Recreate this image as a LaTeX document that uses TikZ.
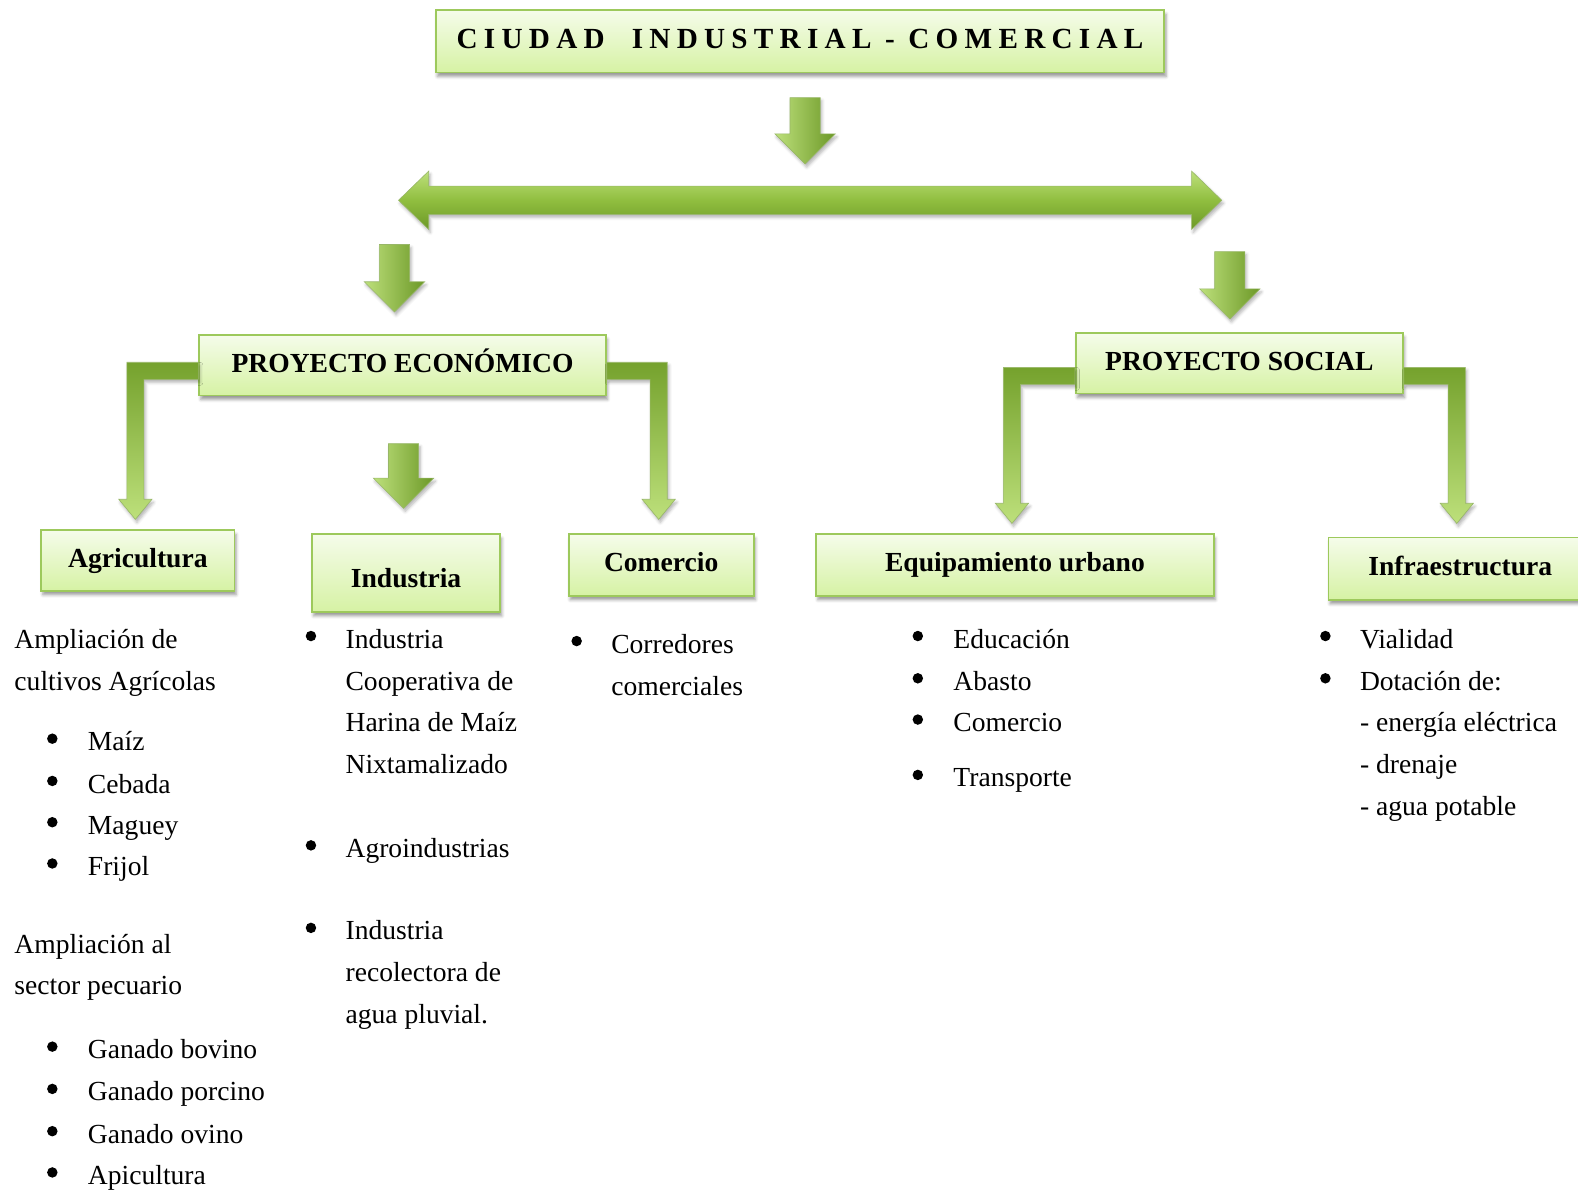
\documentclass[tikz,border=0pt]{standalone}
\usepackage{fontspec}
\setmainfont{Liberation Serif}
\usetikzlibrary{positioning,calc,shadows.blur}

\definecolor{boxline}{HTML}{9DC95C}
\definecolor{boxtop}{HTML}{F5FCEA}
\definecolor{boxbot}{HTML}{D6F2A4}
\definecolor{arrdark}{HTML}{6C9827}
\definecolor{arrmid}{HTML}{90BE3F}
\definecolor{arrlight}{HTML}{BDE07B}

% straight block arrow, from the middle of its top edge to its tip
\newcommand{\downblock}[2]{%
  \path[blockarrow] let \p1=(#1), \p2=(#2) in
    ({\x1-7.5pt},\y1) -- ({\x1+7.5pt},\y1) -- ({\x1+7.5pt},{\y2+15pt})
    -- ({\x1+15pt},{\y2+15pt}) -- (\x1,\y2) -- ({\x1-15pt},{\y2+15pt})
    -- ({\x1-7.5pt},{\y2+15pt}) -- cycle;}

% bent block arrow: #1 side (1 right, -1 left), #2 top of the bar at the box, #3 tip
\newcommand{\bentblock}[3]{%
  \path[blockarrow, top color=arrdark!75!arrmid, bottom color=arrlight]
    let \p1=(#2), \p2=(#3), \n1={#1} in
    (\x1,\y1) -- ({\x2+\n1*4.25pt},\y1) -- ({\x2+\n1*4.25pt},{\y2+10pt})
    -- ({\x2+\n1*8.25pt},{\y2+10pt}) -- (\x2,\y2)
    -- ({\x2-\n1*8.25pt},{\y2+10pt}) -- ({\x2-\n1*4.25pt},{\y2+10pt})
    -- ({\x2-\n1*4.25pt},{\y1-8.5pt}) -- (\x1,{\y1-8.5pt}) -- cycle;}

\tikzset{
  box/.style={draw=boxline, line width=0.9pt, top color=boxtop, bottom color=boxbot,
    inner sep=0pt, text height=9.7pt, text depth=3pt,
    font=\bfseries\fontsize{13.7}{16}\selectfont,
    blur shadow={shadow xshift=0.8pt, shadow yshift=-2pt, shadow blur radius=1.5pt, shadow opacity=40}},
  blockarrow/.style={left color=arrlight, right color=arrdark, draw=arrdark!70, line width=0.3pt,
    blur shadow={shadow xshift=0.8pt, shadow yshift=-1.5pt, shadow blur radius=1.5pt, shadow opacity=30}},
  txt/.style={anchor=base west, inner sep=0pt, font=\fontsize{13.7}{20.75}\selectfont},
}

\begin{document}
\begin{tikzpicture}[x=0.5pt, y=-0.5pt]
  \useasboundingbox (0,0) rectangle (1568,1182);

  % boxes
  \node[box, minimum width=362pt, minimum height=31pt,
    font=\bfseries\fontsize{14.5}{16}\selectfont\addfontfeature{LetterSpace=21.5}]
    (title) at (795,41) {CIUDAD \ INDUSTRIAL - COMERCIAL};
  \node[box, minimum width=202pt, minimum height=30pt] (eco) at (400,363) {PROYECTO ECONÓMICO};
  \node[box, minimum width=162.5pt, minimum height=30pt] (soc) at (1231.5,361) {PROYECTO SOCIAL};
  \node[box, minimum width=96pt, minimum height=30pt] (agr) at (137,557) {Agricultura};
  \node[box, minimum width=93.5pt, minimum height=38.5pt] (ind) at (403.5,569.5) {\raisebox{-4pt}{Industria}};
  \node[box, minimum width=92pt, minimum height=30.5pt] (com) at (657,561.5) {Comercio};
  \node[box, minimum width=197.5pt, minimum height=30.5pt] (equ) at (1008.5,561.5) {Equipamiento urbano};
  \node[box, minimum width=131pt, minimum height=31pt] (inf) at (1451,565) {Infraestructura};

  % arrows
  \downblock{800,97}{800,163}
  \path[blockarrow, top color=arrlight, bottom color=arrdark, middle color=arrmid]
    (396,199) -- (426,170) -- (426,185) -- (1184,185) -- (1184,170) -- (1214,199)
    -- (1184,228) -- (1184,213) -- (426,213) -- (426,228) -- cycle;
  \downblock{392,243}{392,310}
  \downblock{1222,250}{1222,317}
  \downblock{$(eco.south)+(1,47)$}{$(ind.north)+(-2.5,-25)$}
  \bentblock{-1}{$(eco.west)+(0,-3)$}{$(agr.north)+(-2.5,-10)$}
  \bentblock{1}{$(eco.east)+(0,-3)$}{$(com.north)+(-2.5,-14)$}
  \bentblock{-1}{$(soc.west)+(0,4)$}{$(equ.north)+(-3,-10)$}
  \bentblock{1}{$(soc.east)+(0,4)$}{$(inf.north)+(-3.5,-13)$}

  % Agricultura
  \node[txt] (agra) at (14,644) {Ampliación de};
  \node[txt] (agrb) at (14,686) {cultivos Agrícolas};
  \foreach \t/\y [count=\i] in {Maíz/746, Cebada/788, Maguey/829, Frijol/870} {
    \node[txt] (cul\i) at (87,\y) {\t};
    \fill ($(cul\i.base west)+(-35,-12)$) circle (2.6pt);
  }
  \node[txt] (peca) at (14,947) {Ampliación al};
  \node[txt] (pecb) at (14,988) {sector pecuario};
  \foreach \t/\y [count=\i] in {Ganado bovino/1052, Ganado porcino/1094, Ganado ovino/1136, Apicultura/1177} {
    \node[txt] (gan\i) at (87,\y) {\t};
    \fill ($(gan\i.base west)+(-35,-12)$) circle (2.6pt);
  }

  % Industria
  \foreach \t/\y [count=\i] in {Industria/644, Cooperativa de/686, Harina de Maíz/727,
      Nixtamalizado/769, Agroindustrias/852, Industria/934, recolectora de/975, agua pluvial./1017}
    \node[txt] (ind\i) at (343,\y) {\t};
  \foreach \i in {1,5,6}
    \fill ($(ind\i.base west)+(-34,-12)$) circle (2.6pt);

  % Comercio
  \node[txt] (coma) at (607,649) {Corredores};
  \node[txt] (comb) at (607,691) {comerciales};
  \fill ($(coma.base west)+(-34,-12)$) circle (2.6pt);

  % Equipamiento urbano
  \foreach \t/\y [count=\i] in {Educación/644, Abasto/686, Comercio/727, Transporte/782} {
    \node[txt] (equ\i) at (947,\y) {\t};
    \fill ($(equ\i.base west)+(-35,-12)$) circle (2.6pt);
  }

  % Infraestructura
  \foreach \t/\y [count=\i] in {Vialidad/644, Dotación de:/686, - energía eléctrica/727,
      - drenaje/769, - agua potable/810}
    \node[txt] (inf\i) at (1351,\y) {\t};
  \foreach \i in {1,2}
    \fill ($(inf\i.base west)+(-34,-12)$) circle (2.6pt);
\end{tikzpicture}
\end{document}
